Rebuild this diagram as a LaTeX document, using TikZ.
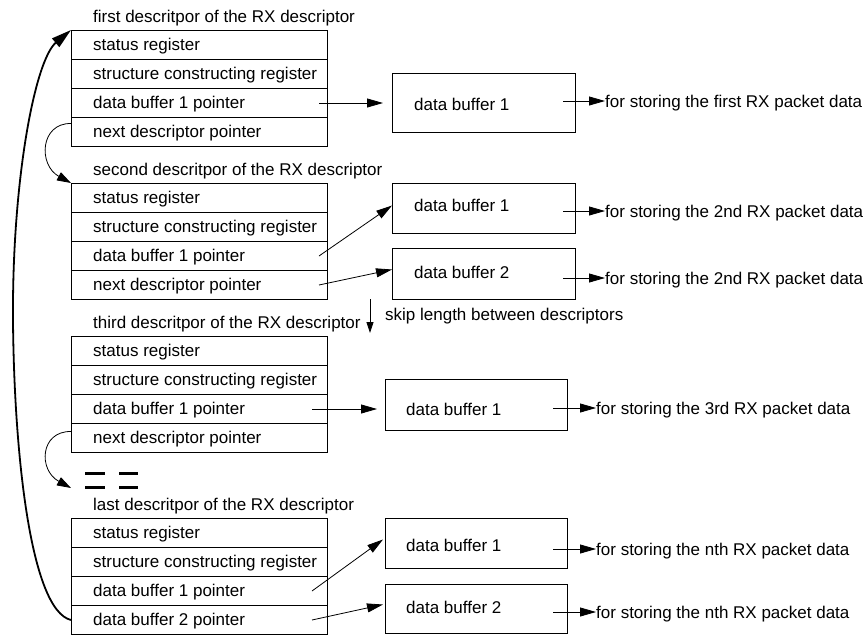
\documentclass[tikz,border=0pt]{standalone}
\usepackage{fontspec}
\setmainfont{Liberation Sans}
\usetikzlibrary{arrows.meta,calc}
\begin{document}
\begin{tikzpicture}[x=1pt,y=-1pt,
  every node/.style={font=\fontsize{17}{20}\selectfont},
  row/.style={draw,line width=1pt,minimum width=256pt,minimum height=29pt,inner sep=0pt,anchor=north west},
  txt/.style={inner sep=0pt,text height=12pt,text depth=0pt,anchor=west},
  buf/.style={draw,line width=1pt,inner sep=0pt,minimum width=183pt,anchor=north west},
  arr/.style={line width=0.8pt,-{Triangle[length=16pt,width=9pt]}},
  curvearr/.style={line width=0.8pt,-{Triangle[length=14pt,width=9pt]}},
  bigarr/.style={line width=1.8pt,-{Triangle[length=20pt,width=11pt]}},
  skiparr/.style={line width=0.8pt,-{Triangle[length=11pt,width=7pt]}},
  dashbar/.style={line width=3pt}
]
\fill[white] (0,0) rectangle (863,635);
\useasboundingbox (0,0) rectangle (863,635);

% descriptor 1
\node[txt] (d1title) at (93,16) {first descritpor of the RX descriptor};
\node[row] (d1r1) at (71,30) {};
\node[row] (d1r2) at (71,59) {};
\node[row] (d1r3) at (71,88) {};
\node[row] (d1r4) at (71,117) {};
\node[txt] (d1t1) at (93,44.5) {status register};
\node[txt] (d1t2) at (93,73.5) {structure constructing register};
\node[txt] (d1t3) at (93,102.5) {data buffer 1 pointer};
\node[txt] (d1t4) at (93,131.5) {next descriptor pointer};

% descriptor 2
\node[txt] (d2title) at (93,169) {second descritpor of the RX descriptor};
\node[row] (d2r1) at (71,183) {};
\node[row] (d2r2) at (71,212) {};
\node[row] (d2r3) at (71,241) {};
\node[row] (d2r4) at (71,270) {};
\node[txt] (d2t1) at (93,197.5) {status register};
\node[txt] (d2t2) at (93,226.5) {structure constructing register};
\node[txt] (d2t3) at (93,255.5) {data buffer 1 pointer};
\node[txt] (d2t4) at (93,284.5) {next descriptor pointer};

% descriptor 3
\node[txt] (d3title) at (93,322) {third descritpor of the RX descriptor};
\node[row] (d3r1) at (71,336) {};
\node[row] (d3r2) at (71,365) {};
\node[row] (d3r3) at (71,394) {};
\node[row] (d3r4) at (71,423) {};
\node[txt] (d3t1) at (93,350.5) {status register};
\node[txt] (d3t2) at (93,379.5) {structure constructing register};
\node[txt] (d3t3) at (93,408.5) {data buffer 1 pointer};
\node[txt] (d3t4) at (93,437.5) {next descriptor pointer};

% last descriptor
\node[txt] (d4title) at (93,504) {last descritpor of the RX descriptor};
\node[row] (d4r1) at (71,518) {};
\node[row] (d4r2) at (71,547) {};
\node[row] (d4r3) at (71,576) {};
\node[row] (d4r4) at (71,605) {};
\node[txt] (d4t1) at (93,532.5) {status register};
\node[txt] (d4t2) at (93,561.5) {structure constructing register};
\node[txt] (d4t3) at (93,590.5) {data buffer 1 pointer};
\node[txt] (d4t4) at (93,619.5) {data buffer 2 pointer};

% data buffers
\node[buf,minimum height=59pt] (b11) at (392,73) {};
\node[buf,minimum height=50pt] (b21) at (392,183) {};
\node[buf,minimum height=51pt] (b22) at (392,248) {};
\node[buf,minimum height=51pt,minimum width=182pt] (b31) at (385,379) {};
\node[buf,minimum height=50pt,minimum width=182pt] (b41) at (385,518) {};
\node[buf,minimum height=49pt,minimum width=182pt] (b42) at (385,584) {};
\node[txt] (b11t) at (414,104) {data buffer 1};
\node[txt] (b21t) at (414,205) {data buffer 1};
\node[txt] (b22t) at (414,272) {data buffer 2};
\node[txt] (b31t) at (406,409) {data buffer 1};
\node[txt] (b41t) at (406,545) {data buffer 1};
\node[txt] (b42t) at (406,607) {data buffer 2};

% output texts
\node[txt] (f11) at (605,101) {for storing the first RX packet data};
\node[txt] (f21) at (605,211) {for storing the 2nd RX packet data};
\node[txt] (f22) at (605,278) {for storing the 2nd RX packet data};
\node[txt] (f31) at (596,408) {for storing the 3rd RX packet data};
\node[txt] (f41) at (596,549) {for storing the nth RX packet data};
\node[txt] (f42) at (596,612) {for storing the nth RX packet data};

% pointer arrows
\draw[arr] ($(d1r3.east)+(-9,0)$) -- ($(b11.west|-d1r3.east)+(-9,0)$);
\draw[arr] ($(d2r3.east)+(-9,0)$) -- ($(b21.west)+(0,-3)$);
\draw[arr] ($(d2r4.east)+(-9,0)$) -- ($(b22.west)+(0,-4.5)$);
\draw[arr] ($(d3r3.east)+(-16,0)$) -- ($(b31.west|-d3r3.east)+(-8,0)$);
\draw[arr] ($(d4r3.east)+(-16,0)$) -- ($(b41.west)+(-2,-4)$);
\draw[arr] ($(d4r4.east)+(-16,0)$) -- ($(b42.west)+(-2,-4.5)$);

% output arrows
\draw[arr] ($(b11.east|-f11.west)+(-13,0)$) -- (f11.west);
\draw[arr] ($(b21.east|-f21.west)+(-13,0)$) -- (f21.west);
\draw[arr] ($(b22.east|-f22.west)+(-13,0)$) -- (f22.west);
\draw[arr] ($(b31.east|-f31.west)+(-15,0)$) -- (f31.west);
\draw[arr] ($(b41.east|-f41.west)+(-15,0)$) -- (f41.west);
\draw[arr] ($(b42.east|-f42.west)+(-15,0)$) -- (f42.west);

% skip length
\coordinate (s1) at (370,299);
\coordinate (s2) at (370,333);
\draw[skiparr] (s1) -- (s2);
\node[txt] (skip) at (385,314) {skip length between descriptors};

% next-descriptor curves
\coordinate (cB) at (71,488);
\draw[curvearr] ($(d1r4.west)+(0,-8.5)$) .. controls (40,123) and (38,165) .. (d2r1.north west);
\draw[curvearr] ($(d3r4.west)+(0,-6.5)$) .. controls (40,431) and (38,470) .. (cB);

% wrap-around curve
\draw[bigarr] (d4r4.west) .. controls (30,610) and (14,450) .. (13,320) .. controls (12,180) and (35,60) .. (d1r1.north west);

% ellipsis dashes
\draw[dashbar] (85,473) -- (105,473) (119,473) -- (138,473)
               (85,487) -- (105,487) (119,487) -- (138,487);
\end{tikzpicture}
\end{document}
